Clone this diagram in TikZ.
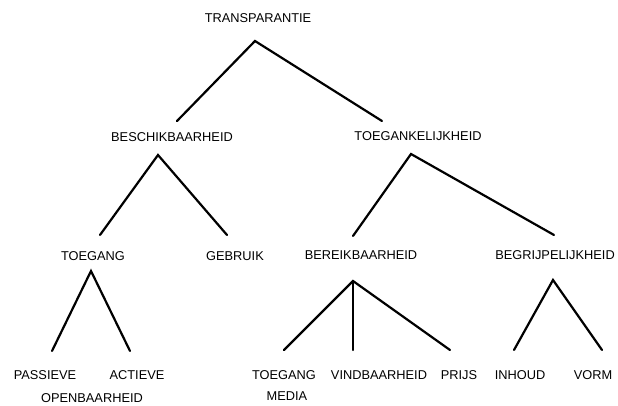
\documentclass[tikz,border=0pt]{standalone}
\usepackage{fontspec}
\setmainfont{Liberation Sans}
\begin{document}
\begin{tikzpicture}[x=1pt,y=-1pt,
  lbl/.style={inner sep=0pt, font=\fontsize{12.8}{15}\selectfont, text=black},
  edge/.style={line width=2.2pt, line cap=round, black}]
\useasboundingbox[fill=white] (0,0) rectangle (618,406);
% labels
\node[lbl] (T)  at (258,18)  {TRANSPARANTIE};
\node[lbl] (B)  at (172,137) {BESCHIKBAARHEID};
\node[lbl] (TK) at (418,136) {TOEGANKELIJKHEID};
\node[lbl] (TG) at (93,256)  {TOEGANG};
\node[lbl] (GB) at (235,256) {GEBRUIK};
\node[lbl] (BR) at (361,255) {BEREIKBAARHEID};
\node[lbl] (BG) at (555,255) {BEGRIJPELIJKHEID};
\node[lbl] (PA) at (45,375)  {PASSIEVE};
\node[lbl] (AC) at (137,375) {ACTIEVE};
\node[lbl] (OB) at (92,398)  {OPENBAARHEID};
\node[lbl] (TM) at (284,375) {TOEGANG};
\node[lbl] (MD) at (287,396) {MEDIA};
\node[lbl] (VB) at (379,375) {VINDBAARHEID};
\node[lbl] (PR) at (459,375) {PRIJS};
\node[lbl] (IN) at (520,375) {INHOUD};
\node[lbl] (VO) at (593,375) {VORM};
% connector ends
\coordinate (Ta)  at (255,41);
\coordinate (Te1) at (177,121);
\coordinate (Te2) at (382,121);
\coordinate (Ba)  at (158,155);
\coordinate (Be1) at (100,235);
\coordinate (Be2) at (227,235);
\coordinate (TKa) at (411,154);
\coordinate (TKe1) at (353,236);
\coordinate (TKe2) at (554,235);
\coordinate (TGa) at (91,271);
\coordinate (TGe1) at (52,351);
\coordinate (TGe2) at (130,351);
\coordinate (BRa) at (353,281);
\coordinate (BRe1) at (284,350);
\coordinate (BRe2) at (353,350);
\coordinate (BRe3) at (450,350);
\coordinate (BGa) at (553,280);
\coordinate (BGe1) at (514,350);
\coordinate (BGe2) at (602,350);
% connectors
\draw[edge] (Te1) -- (Ta) -- (Te2);
\draw[edge] (Be1) -- (Ba) -- (Be2);
\draw[edge] (TKe1) -- (TKa) -- (TKe2);
\draw[edge] (TGe1) -- (TGa) -- (TGe2);
\draw[edge] (BRe1) -- (BRa) -- (BRe3);
\draw[edge] (BRa) -- (BRe2);
\draw[edge] (BGe1) -- (BGa) -- (BGe2);
\end{tikzpicture}
\end{document}
